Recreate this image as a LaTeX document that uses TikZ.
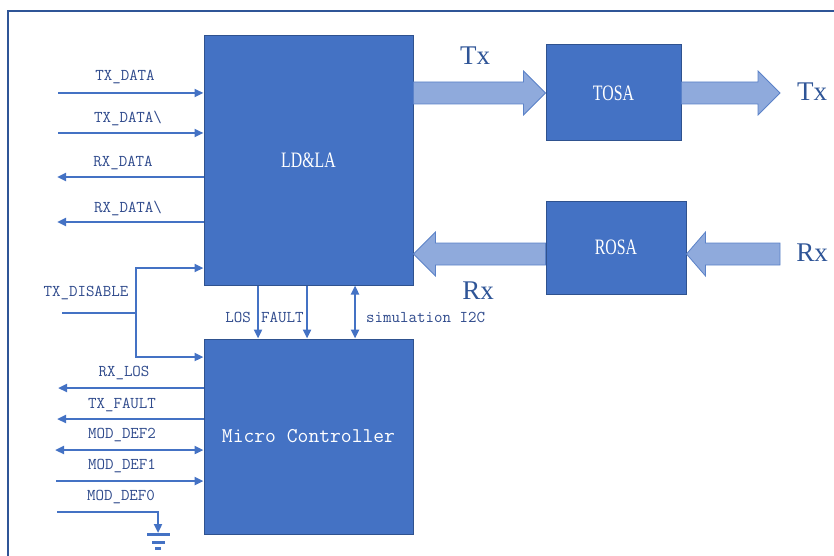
\documentclass[tikz,border=0pt]{standalone}
\usepackage{fontspec}
\usetikzlibrary{arrows.meta,calc}
\newfontfamily\boxfont[FakeStretch=0.72]{Liberation Serif}
\newfontfamily\bigfont{Liberation Serif}
\definecolor{boxfill}{HTML}{4472C4}
\definecolor{boxedge}{HTML}{2F528F}
\definecolor{fatfill}{HTML}{8FAADC}
\definecolor{fatedge}{HTML}{5B82C8}
\definecolor{sigc}{HTML}{4472C4}
\definecolor{framec}{HTML}{2F5597}
\definecolor{txtc}{HTML}{2F4A8C}
\tikzset{
  blk/.style={draw=boxedge, line width=1pt, fill=boxfill, text=white, inner sep=0pt},
  sig/.style={draw=sigc, line width=2.6pt},
  tipr/.style={-{Triangle[length=9pt,width=8pt]}},
  tipl/.style={{Triangle[length=9pt,width=8pt]}-},
  tipb/.style={{Triangle[length=9pt,width=8pt]}-{Triangle[length=9pt,width=8pt]}},
  fat/.style={draw=fatedge, line width=0.8pt, fill=fatfill},
  lbl/.style={text=txtc, font=\ttfamily\fontsize{16.5}{16.5}\selectfont, inner sep=0pt},
  big/.style={text=framec, font=\bigfont\fontsize{27}{27}\selectfont, inner sep=0pt},
  frame/.style={draw=framec, line width=2.8pt},
  gnd/.style={draw=sigc, line width=3pt}
}
\newcommand\fatarrow[3]{%
  \draw[fat] ($(#1)+(0,-11)$) -- ($(#2)+({-1*(#3)},-11)$) -- ($(#2)+({-1*(#3)},-22)$)
    -- (#2) -- ($(#2)+({-1*(#3)},22)$) -- ($(#2)+({-1*(#3)},11)$) -- ($(#1)+(0,11)$) -- cycle;}
\begin{document}
\begin{tikzpicture}[x=1pt,y=-1pt]
\useasboundingbox (0,0) rectangle (834,556);
% frame
\coordinate (f1) at (8,556);
\coordinate (f2) at (8,11);
\coordinate (f3) at (834,11);
\draw[frame] (f1) -- (f2) -- (f3);

% blocks
\node[blk, minimum width=209pt, minimum height=249pt, font=\boxfont\fontsize{22}{22}\selectfont] (ld) at (308.5,160.5) {LD\&LA};
\node[blk, minimum width=209pt, minimum height=195pt, font=\ttfamily\fontsize{21}{21}\selectfont] (mc) at (308.5,436.5) {Micro Controller};
\node[blk, minimum width=135pt, minimum height=96pt, font=\boxfont\fontsize{22}{22}\selectfont] (tosa) at (613.5,93) {TOSA};
\node[blk, minimum width=140pt, minimum height=93pt, font=\boxfont\fontsize{22}{22}\selectfont] (rosa) at (616,247.5) {ROSA};

% fat arrows
\coordinate (txout) at (780,93);
\coordinate (rxin) at (780,254);
\fatarrow{ld.east |- tosa.west}{tosa.west}{22}
\fatarrow{tosa.east}{txout}{22}
\fatarrow{rosa.west |- rxin}{ld.east |- rxin}{-22}
\fatarrow{rxin}{rosa.east |- rxin}{-19}
\node[big] (tx1) at (475,56) {Tx};
\node[big] (tx2) at (812,92) {Tx};
\node[big] (rx1) at (478,291) {Rx};
\node[big] (rx2) at (812,253) {Rx};

% left signals of LD&LA
\coordinate (s1) at (58,93);
\coordinate (s2) at (58,133);
\coordinate (s3) at (57,177);
\coordinate (s4) at (57,222);
\draw[sig,tipr] (s1) -- (s1 -| ld.west);
\draw[sig,tipr] (s2) -- (s2 -| ld.west);
\draw[sig,tipl] (s3) -- (s3 -| ld.west);
\draw[sig,tipl] (s4) -- (s4 -| ld.west);
\node[lbl] (l1) at (125,77) {TX\_DATA};
\node[lbl] (l2) at (128,118) {TX\_DATA\textbackslash};
\node[lbl] (l3) at (123,163) {RX\_DATA};
\node[lbl] (l4) at (128,208) {RX\_DATA\textbackslash};

% TX_DISABLE
\coordinate (dis) at (62,313);
\coordinate (br) at (136,313);
\coordinate (br1) at (136,268);
\coordinate (br2) at (136,357);
\draw[sig] (dis) -- (br);
\draw[sig,tipr] (br) -- (br1) -- (br1 -| ld.west);
\draw[sig,tipr] (br) -- (br2) -- (br2 -| mc.west);
\node[lbl] (l5) at (86,293) {TX\_DISABLE};

% left signals of Micro Controller
\coordinate (m1) at (58,388);
\coordinate (m2) at (57,419);
\coordinate (m3) at (55,450);
\coordinate (m4) at (56,481);
\draw[sig,tipl] (m1) -- (m1 -| mc.west);
\draw[sig,tipl] (m2) -- (m2 -| mc.west);
\draw[sig,tipb] (m3) -- (m3 -| mc.west);
\draw[sig,tipr] (m4) -- (m4 -| mc.west);
\node[lbl] (l6) at (124,373) {RX\_LOS};
\node[lbl] (l7) at (122,405) {TX\_FAULT};
\node[lbl] (l8) at (122,435) {MOD\_DEF2};
\node[lbl] (l9) at (122,466) {MOD\_DEF1};
\node[lbl] (l10) at (121,497) {MOD\_DEF0};

% MOD_DEF0 to ground
\coordinate (m5) at (57,512);
\coordinate (gk) at (158,512);
\coordinate (g0) at (158,533);
\draw[sig,tipr] (m5) -- (gk) -- (g0);
\coordinate (ga1) at (147,534);
\coordinate (ga2) at (170,534);
\coordinate (gb1) at (152,542);
\coordinate (gb2) at (165,542);
\coordinate (gc1) at (155,548);
\coordinate (gc2) at (161,548);
\draw[gnd] (ga1) -- (ga2);
\draw[gnd] (gb1) -- (gb2);
\draw[gnd] (gc1) -- (gc2);

% between blocks
\coordinate (los) at (258,312);
\coordinate (flt) at (307,312);
\coordinate (i2c) at (355,312);
\draw[sig,tipr] (los |- ld.south) -- (los |- mc.north);
\draw[sig,tipr] (flt |- ld.south) -- (flt |- mc.north);
\draw[sig,tipb] (i2c |- ld.south) -- (i2c |- mc.north);
\node[lbl, anchor=east] (l11) at (251,317) {LOS};
\node[lbl, anchor=west] (l12) at (261,317) {FAULT};
\node[lbl, anchor=west] (l13) at (366,317) {simulation I2C};
\end{tikzpicture}
\end{document}
